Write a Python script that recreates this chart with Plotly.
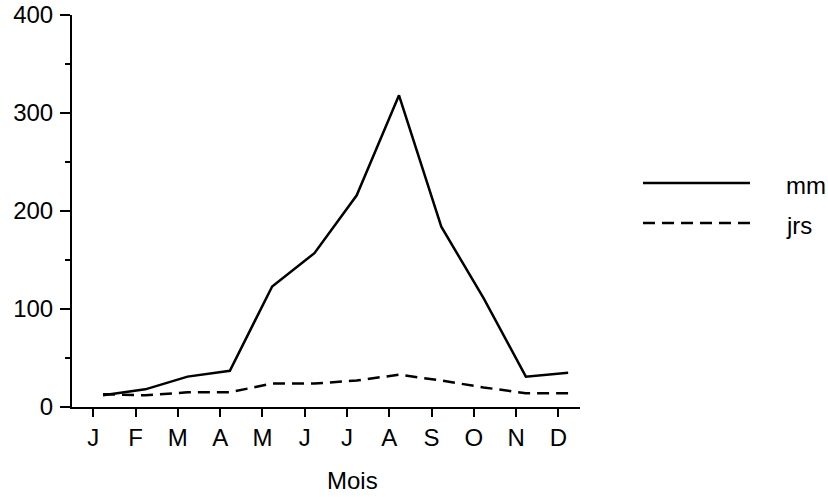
import plotly.graph_objects as go

months = ["J", "F", "M", "A", "M", "J", "J", "A", "S", "O", "N", "D"]
mm = [12, 18, 31, 37, 123, 157, 216, 318, 184, 111, 31, 35]
jrs = [13, 12, 15, 15, 24, 24, 27, 33, 27, 20, 14, 14]
y_ticks = [0, 100, 200, 300, 400]

idx = list(range(len(months)))
tick_shift = 0.23
FONT = "Liberation Sans, Arial, Helvetica, sans-serif"
FS = 24

fig = go.Figure()
fig.add_trace(go.Scatter(x=idx, y=mm, mode="lines", name="mm",
                         line=dict(color="black", width=2.5)))
fig.add_trace(go.Scatter(x=idx, y=jrs, mode="lines", name="jrs",
                         line=dict(color="black", width=2.5, dash="12px,7px")))

fig.update_layout(
    width=828, height=497,
    margin=dict(l=72, r=248, t=15, b=90, autoexpand=False),
    paper_bgcolor="white", plot_bgcolor="white",
    showlegend=False,
    font=dict(family=FONT, size=FS, color="black"),
)
fig.update_xaxes(
    range=[-0.733, 11.28],
    tickvals=[i - tick_shift for i in idx], ticktext=months,
    showline=True, linecolor="black", linewidth=2,
    ticks="outside", ticklen=8, tickwidth=2, tickcolor="black",
    showgrid=False, zeroline=False, automargin=False,
    tickfont=dict(family=FONT, size=FS, color="black"),
)
fig.update_yaxes(
    range=[0, 400],
    tickvals=y_ticks,
    showline=True, linecolor="black", linewidth=2,
    ticks="outside", ticklen=10, tickwidth=2, tickcolor="black",
    minor=dict(ticks="outside", ticklen=5, tickwidth=2, tickcolor="black", dtick=50, showgrid=False),
    showgrid=False, zeroline=False, automargin=False,
    ticklabelstandoff=2, ticklabeloverflow="allow",
    tickfont=dict(family=FONT, size=FS, color="black"),
)

def px(sx):
    return (sx - 72) / 508

def py(sy):
    return (407 - sy) / 392

# x-axis title
fig.add_annotation(text="Mois", xref="paper", yref="paper", x=px(352), y=py(480),
                   showarrow=False, font=dict(family=FONT, size=FS, color="black"),
                   xanchor="center", yanchor="middle")

# legend drawn manually
leg = [("mm", "solid", 183), ("jrs", "12px,7px", 223)]
for name, dash, ly in leg:
    fig.add_shape(type="line", xref="paper", yref="paper",
                  x0=px(643), x1=px(750), y0=py(ly), y1=py(ly),
                  line=dict(color="black", width=2.5, dash=dash))
    fig.add_annotation(text=name, xref="paper", yref="paper", x=px(784), y=py(ly + 3),
                       showarrow=False, xanchor="left", yanchor="middle",
                       font=dict(family=FONT, size=FS, color="black"))

# remove the default 8px page margin so the figure fills the window exactly
fig.write_html("out.html",
               config={"displayModeBar": False},
               post_script="document.body.style.margin='0';document.body.style.overflow='hidden';")
